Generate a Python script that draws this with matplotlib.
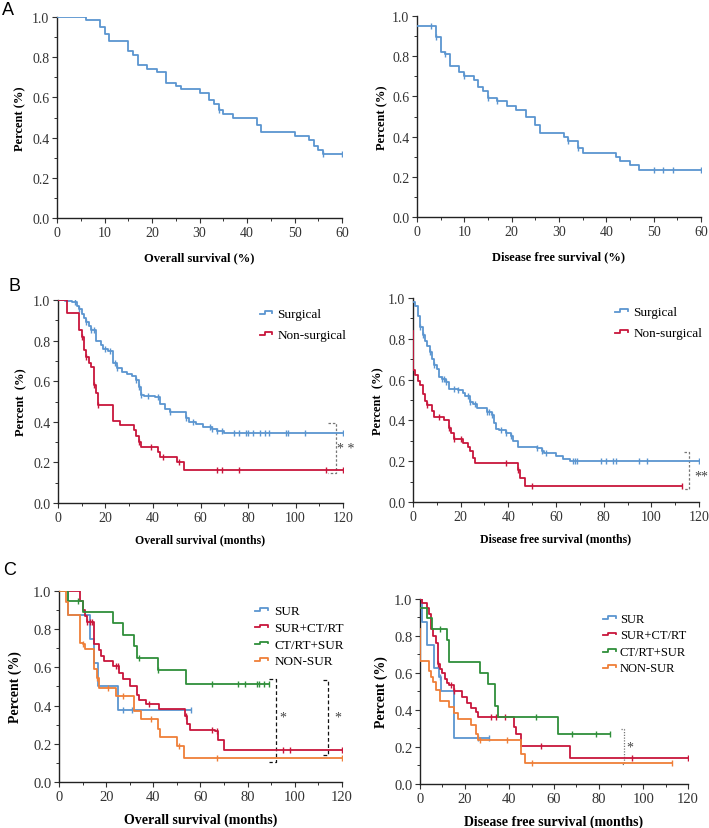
import numpy as np
import matplotlib
matplotlib.use("Agg")
import matplotlib.pyplot as plt
from matplotlib.lines import Line2D
from matplotlib.legend_handler import HandlerBase
from matplotlib.ticker import MultipleLocator

plt.rcParams['font.family'] = ['Liberation Serif', 'DejaVu Serif']

BLUE = '#5b95d0'
RED = '#c8163c'
GREEN = '#2f8f3a'
ORANGE = '#ef7f38'

# ---------------- Panel A ----------------
a_os_t = [0, 6, 9, 10, 11, 15, 16, 17, 19, 21, 23, 25, 26, 30, 32, 33, 34, 35, 37, 42, 43, 50, 53, 54, 55, 56, 60]
a_os_s = [1.0, 0.987, 0.949, 0.916, 0.88, 0.83, 0.81, 0.76, 0.74, 0.725, 0.67, 0.656, 0.64, 0.62, 0.588, 0.566,
          0.535, 0.516, 0.50, 0.464, 0.427, 0.41, 0.39, 0.357, 0.34, 0.32, 0.32]
a_os_c = [34, 56, 60]

a_dfs_t = [0, 4, 5, 6, 7, 9, 10, 12, 13, 14, 15, 17, 19, 21, 23, 25, 26, 31, 32, 34, 35, 42, 43, 45, 47, 60]
a_dfs_s = [0.95, 0.896, 0.823, 0.81, 0.752, 0.719, 0.70, 0.683, 0.645, 0.628, 0.59, 0.575, 0.554, 0.534, 0.496,
           0.459, 0.42, 0.40, 0.38, 0.344, 0.32, 0.30, 0.278, 0.258, 0.235, 0.235]
a_dfs_c = [3, 4, 6, 10, 15, 17, 32, 34, 50, 52, 54, 60]

# ---------------- Panel B ----------------
b_os_sur_t = [0, 3, 6, 8, 9, 10, 11, 12, 13, 14, 16, 18, 19, 21, 23, 25, 27, 29, 31, 33, 34, 35, 36, 41, 43, 45,
              47, 54, 55, 58, 61, 65, 67, 70, 120]
b_os_sur_s = [1.0, 0.995, 0.99, 0.97, 0.955, 0.93, 0.91, 0.89, 0.87, 0.85, 0.80, 0.78, 0.76, 0.75, 0.69, 0.666,
              0.645, 0.635, 0.625, 0.605, 0.57, 0.53, 0.525, 0.52, 0.488, 0.463, 0.447, 0.417, 0.397, 0.39, 0.376,
              0.365, 0.357, 0.344, 0.344]
b_os_sur_c = [7, 9, 12, 14, 15, 20, 22, 24, 25, 33, 34, 35, 38, 42, 47, 54, 57, 64, 65, 67, 69, 74, 76, 79, 80,
              82, 85, 87, 89, 96, 97, 104, 120]
b_os_non_t = [0, 4, 9, 10, 11, 12, 13, 14, 15, 16, 17, 23, 26, 32, 33, 34, 35, 42, 43, 50, 53, 120]
b_os_non_s = [1.0, 0.935, 0.85, 0.82, 0.755, 0.72, 0.69, 0.67, 0.58, 0.54, 0.485, 0.405, 0.385, 0.36, 0.33, 0.30,
              0.275, 0.25, 0.225, 0.20, 0.165, 0.165]
b_os_non_c = [10, 12, 15, 17, 34, 39, 44, 51, 67, 69, 76, 113, 120]

b_dfs_sur_t = [0, 1, 2, 3, 4, 5, 6, 7, 8, 9, 10, 11, 12, 14, 15, 19, 21, 22, 24, 25, 27, 31, 33, 34, 35, 36, 39,
               41, 42, 44, 52, 54, 55, 60, 63, 66, 120]
b_dfs_sur_s = [0.98, 0.96, 0.91, 0.86, 0.82, 0.79, 0.765, 0.735, 0.70, 0.67, 0.65, 0.615, 0.605, 0.59, 0.555, 0.55,
               0.535, 0.52, 0.49, 0.48, 0.46, 0.44, 0.425, 0.39, 0.36, 0.355, 0.34, 0.325, 0.30, 0.27, 0.265, 0.25,
               0.24, 0.225, 0.21, 0.20, 0.20]
b_dfs_sur_c = [3, 4, 7, 9, 12, 13, 14, 17, 19, 23, 24, 26, 31, 32, 33, 37, 39, 41, 52, 54, 56, 67, 68, 69, 79, 81,
               84, 85, 95, 98, 120]
b_dfs_non_t = [0, 0, 1, 2, 3, 4, 5, 6, 8, 9, 13, 15, 16, 17, 21, 23, 24, 25, 26, 44, 45, 47, 113]
b_dfs_non_s = [0.84, 0.645, 0.625, 0.595, 0.575, 0.53, 0.495, 0.475, 0.445, 0.415, 0.40, 0.365, 0.34, 0.31, 0.29,
               0.27, 0.25, 0.215, 0.19, 0.155, 0.12, 0.08, 0.08]
b_dfs_non_c = [6, 11, 15, 17, 20, 39, 44, 50, 113]

# ---------------- Panel C ----------------
c_groups = ['SUR', 'SUR+CT/RT', 'CT/RT+SUR', 'NON-SUR']

c_os_sur_t = [0, 4, 13, 15, 16.5, 25, 56]
c_os_sur_s = [1.0, 0.875, 0.75, 0.625, 0.50, 0.375, 0.375]
c_os_sur_c = [27, 31, 56]
c_os_sct_t = [0, 9, 10, 11, 12, 15, 17, 18, 19, 23, 25.5, 27, 30, 33, 34, 37, 42.5, 53.5, 54.5, 55.5, 66, 67.5, 70, 120]
c_os_sct_s = [1.0, 0.95, 0.90, 0.87, 0.84, 0.72, 0.69, 0.66, 0.635, 0.605, 0.57, 0.54, 0.50, 0.454, 0.43, 0.41,
              0.38, 0.345, 0.305, 0.27, 0.265, 0.22, 0.17, 0.17]
c_os_sct_c = [12, 13, 14, 24, 25, 38, 54, 65, 67, 95, 98, 120]
c_os_cts_t = [0, 4, 10, 23, 27, 32, 33, 42, 54, 89]
c_os_cts_s = [1.0, 0.95, 0.89, 0.83, 0.77, 0.71, 0.65, 0.585, 0.515, 0.515]
c_os_cts_c = [8, 34, 42, 65, 76, 79, 84, 85, 87, 89]
c_os_non_t = [0, 3, 4, 9, 10, 11, 15, 16, 17, 24, 32, 35, 42, 43, 50, 53, 120]
c_os_non_s = [1.0, 0.94, 0.875, 0.73, 0.72, 0.695, 0.59, 0.545, 0.49, 0.45, 0.37, 0.33, 0.28, 0.235, 0.19, 0.125,
              0.125]
c_os_non_c = [10, 16, 21, 27, 39, 51, 67, 120]

c_dfs_sur_t = [0, 0.7, 3.3, 6.3, 8.6, 9.2, 15, 31]
c_dfs_sur_s = [1.0, 0.875, 0.75, 0.625, 0.58, 0.50, 0.25, 0.25]
c_dfs_sur_c = [9, 26, 31]
c_dfs_sct_t = [0, 1, 3, 4, 5, 6, 7, 8, 9, 10, 11, 12, 13, 15, 19, 21, 23, 25, 26, 42, 43, 45, 67, 120]
c_dfs_sct_s = [1.0, 0.98, 0.95, 0.92, 0.84, 0.80, 0.76, 0.65, 0.62, 0.60, 0.565, 0.545, 0.535, 0.505, 0.47, 0.435,
               0.41, 0.39, 0.36, 0.31, 0.27, 0.205, 0.14, 0.14]
c_dfs_sct_c = [8, 14, 15, 32, 34, 38, 54, 95, 120]
c_dfs_cts_t = [0, 3.3, 5.2, 12.2, 13, 26.8, 30.5, 33.8, 34.9, 62, 85]
c_dfs_cts_s = [0.95, 0.895, 0.84, 0.78, 0.66, 0.60, 0.54, 0.42, 0.36, 0.27, 0.27]
c_dfs_cts_c = [9, 52, 68, 79, 85]
c_dfs_non_t = [0, 0, 4, 5, 6, 7, 9, 13, 15, 17, 23, 25, 26, 45, 47, 113]
c_dfs_non_s = [0.84, 0.665, 0.61, 0.58, 0.55, 0.51, 0.45, 0.415, 0.385, 0.35, 0.32, 0.27, 0.235, 0.16, 0.115,
               0.115]
c_dfs_non_c = [27, 39, 50, 113]


class HandlerStep(HandlerBase):
    def create_artists(self, legend, orig_handle, xdescent, ydescent, width, height, fontsize, trans):
        x0, y0 = -xdescent, -ydescent
        xs = [x0, x0 + 0.4 * width, x0 + 0.4 * width, x0 + width, x0 + width]
        ys = [y0 + 0.35 * height, y0 + 0.35 * height, y0 + 0.65 * height, y0 + 0.65 * height, y0 + 0.45 * height]
        ln = Line2D(xs, ys, color=orig_handle.get_color(), lw=1.3, transform=trans)
        return [ln]


def surv_at(t, s, x):
    t = np.asarray(t, float)
    s = np.asarray(s, float)
    i = np.searchsorted(t, x, side='right') - 1
    return s[np.clip(i, 0, len(s) - 1)]


def km(ax, t, s, cens, color, label=None):
    ax.step(t, s, where='post', color=color, lw=1.3, label=label, zorder=3)
    if cens:
        ax.plot(cens, surv_at(t, s, np.asarray(cens, float)), ls='none', marker='|', ms=4.5, mew=1.0,
                color=color, zorder=3)


def style(ax, xmax, xmaj, xmin, tick_fs, xlabel, label_fs, xpad):
    ax.set_xlim(0, xmax)
    ax.set_ylim(0, 1.0)
    for sp in ['top', 'right']:
        ax.spines[sp].set_visible(False)
    for sp in ['left', 'bottom']:
        ax.spines[sp].set_color('#222222')
        ax.spines[sp].set_linewidth(1.0)
    ax.xaxis.set_major_locator(MultipleLocator(xmaj))
    ax.xaxis.set_minor_locator(MultipleLocator(xmin))
    ax.yaxis.set_major_locator(MultipleLocator(0.2))
    ax.yaxis.set_minor_locator(MultipleLocator(0.1))
    ax.set_yticklabels([f'{v:.1f}' for v in ax.get_yticks()])
    ax.tick_params(which='major', direction='out', length=3.5, width=0.8, labelsize=tick_fs,
                   colors='#333333', pad=2)
    ax.tick_params(which='minor', direction='out', length=2, width=0.7, colors='#333333')
    ax.set_xlabel(xlabel, fontsize=label_fs, fontweight='bold', labelpad=xpad)


def bracket(ax, x, y0, y1, arm, color, ls, star, sx, sy, fs):
    ax.plot([x - arm, x, x, x - arm], [y0, y0, y1, y1], color=color, lw=0.9, ls=ls, zorder=2,
            clip_on=False)
    ax.text(sx, sy, star, fontsize=fs, color='#444444', ha='center', va='center')


def legend(ax, anchor, fs, spacing, hl=1.0, pad=0.35):
    ax.legend(handler_map={Line2D: HandlerStep()}, loc='upper left', bbox_to_anchor=anchor,
              frameon=False, fontsize=fs, handlelength=hl, handletextpad=pad, labelspacing=spacing,
              borderaxespad=0.2)


fig = plt.figure(figsize=(7.09, 8.29), dpi=100)

# ---- A ----
axA1 = fig.add_axes([0.0804, 0.7358, 0.402, 0.2425])
km(axA1, a_os_t, a_os_s, a_os_c, BLUE)
style(axA1, 60, 10, 5, 10, 'Overall survival (%)', 9, 9)
axA1.set_ylabel('Percent (%)', fontsize=9, fontweight='bold', labelpad=4)

axA2 = fig.add_axes([0.588, 0.737, 0.4006, 0.2425])
km(axA2, a_dfs_t, a_dfs_s, a_dfs_c, BLUE)
style(axA2, 60, 10, 5, 10, 'Disease free survival (%)', 9, 9)
axA2.set_ylabel('Percent (%)', fontsize=9, fontweight='bold', labelpad=3)

# ---- B ----
axB1 = fig.add_axes([0.0818, 0.392, 0.402, 0.2449])
km(axB1, b_os_sur_t, b_os_sur_s, b_os_sur_c, BLUE, 'Surgical')
km(axB1, b_os_non_t, b_os_non_s, b_os_non_c, RED, 'Non-surgical')
bracket(axB1, 117.2, 0.395, 0.15, 3.5, '#777777', (0, (2, 1.5)), '* *', 121, 0.27, 10)
style(axB1, 120, 20, 10, 10, 'Overall survival (months)', 8.5, 7)
axB1.set_ylabel('Percent  (%)', fontsize=9, fontweight='bold', labelpad=4)
legend(axB1, (0.68, 1.0), 9.5, 0.65, hl=0.95, pad=0.4)

axB2 = fig.add_axes([0.5825, 0.3932, 0.4034, 0.246])
km(axB2, b_dfs_sur_t, b_dfs_sur_s, b_dfs_sur_c, BLUE, 'Surgical')
km(axB2, b_dfs_non_t, b_dfs_non_s, b_dfs_non_c, RED, 'Non-surgical')
bracket(axB2, 116, 0.246, 0.062, 2.5, '#777777', (0, (2, 1.5)), '**', 121, 0.128, 10)
style(axB2, 120, 20, 10, 10, 'Disease free survival (months)', 8.5, 7)
axB2.set_ylabel('Percent  (%)', fontsize=9, fontweight='bold', labelpad=3)
legend(axB2, (0.68, 1.0), 9.5, 0.65, hl=0.95, pad=0.4)

# ---- C ----
axC1 = fig.add_axes([0.0832, 0.0555, 0.399, 0.2304])
km(axC1, c_os_sur_t, c_os_sur_s, c_os_sur_c, BLUE, c_groups[0])
km(axC1, c_os_sct_t, c_os_sct_s, c_os_sct_c, RED, c_groups[1])
km(axC1, c_os_cts_t, c_os_cts_s, c_os_cts_c, GREEN, c_groups[2])
km(axC1, c_os_non_t, c_os_non_s, c_os_non_c, ORANGE, c_groups[3])
bracket(axC1, 92, 0.54, 0.105, 3, '#111111', (0, (3, 2)), '*', 95, 0.34, 10)
bracket(axC1, 114.2, 0.532, 0.143, 2.2, '#111111', (0, (3, 2)), '*', 118.3, 0.34, 10)
style(axC1, 120, 20, 10, 10.5, 'Overall survival (months)', 10, 7)
axC1.set_ylabel('Percent (%)', fontsize=10, fontweight='bold', labelpad=8)
legend(axC1, (0.665, 0.97), 9.5, 0.35, hl=1.0, pad=0.45)

axC2 = fig.add_axes([0.5924, 0.0531, 0.378, 0.2232])
km(axC2, c_dfs_sur_t, c_dfs_sur_s, c_dfs_sur_c, BLUE, c_groups[0])
km(axC2, c_dfs_sct_t, c_dfs_sct_s, c_dfs_sct_c, RED, c_groups[1])
km(axC2, c_dfs_cts_t, c_dfs_cts_s, c_dfs_cts_c, GREEN, c_groups[2])
km(axC2, c_dfs_non_t, c_dfs_non_s, c_dfs_non_c, ORANGE, c_groups[3])
bracket(axC2, 91.4, 0.297, 0.108, 1.5, '#777777', (0, (1, 1.2)), '*', 93.8, 0.20, 10)
style(axC2, 120, 20, 10, 10.5, 'Disease free survival (months)', 10, 7)
axC2.set_ylabel('Percent (%)', fontsize=10, fontweight='bold', labelpad=4)
legend(axC2, (0.655, 0.965), 9, 0.35, hl=1.0, pad=0.35)

for lab, (x, y) in zip(['A', 'B', 'C'], [(0.003, 0.997), (0.012, 0.665), (0.005, 0.322)]):
    fig.text(x, y, lab, fontsize=13, family='Liberation Sans', va='top', ha='left')

fig.savefig('out.png', dpi=100)
